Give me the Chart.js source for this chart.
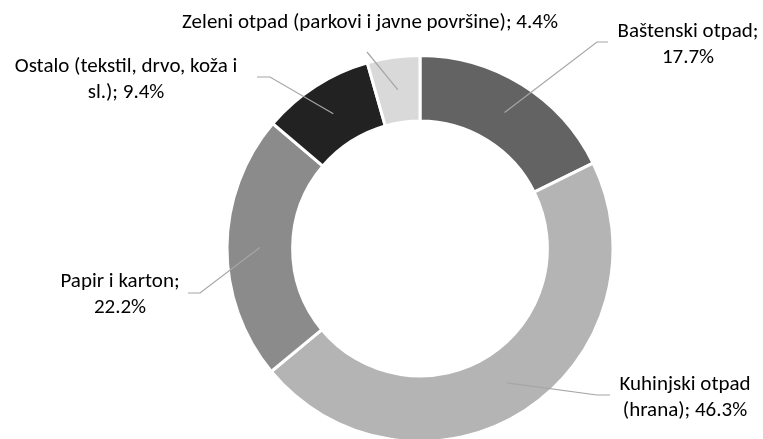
<!DOCTYPE html>
<html lang="sr">
<head>
  <meta charset="UTF-8" />
  <title>Sastav biorazgradivog otpada</title>
  <script src="https://cdn.jsdelivr.net/npm/chart.js"></script>
  <style>
    html,body{margin:0;padding:0;background:#fff;overflow:hidden;}
    #wrap{position:relative;width:763px;height:439px;}
  </style>
</head>
<body>
<div id="wrap"><canvas id="pie" width="763" height="439"></canvas></div>
<script>
  // Data
  const categories=['Baštenski otpad','Kuhinjski otpad (hrana)','Papir i karton','Ostalo (tekstil, drvo, koža i sl.)','Zeleni otpad (parkovi i javne površine)'];
  const shares=[17.7,46.3,22.2,9.4,4.4];
  const sliceColors=['#636363','#b4b4b4','#8b8b8b','#222222','#d9d9d9'];

  // label layout: wrapped text lines, text centre, leader elbow + end
  const labelLayout=[
    {lines:['Baštenski otpad;','17.7%'],x:688,y:32,elbow:[597,42],end:[608,42]},
    {lines:['Kuhinjski otpad','(hrana); 46.3%'],x:685,y:385,elbow:[597,395],end:[610,395]},
    {lines:['Papir i karton;','22.2%'],x:120,y:282,elbow:[200,293],end:[188,293]},
    {lines:['Ostalo (tekstil, drvo, koža i','sl.); 9.4%'],x:126,y:67,elbow:[270,77],end:[257,77]},
    {lines:['Zeleni otpad (parkovi i javne površine); 4.4%'],x:370,y:23,elbow:[367,52],end:[367,52]}
  ];
  const FAMILY='Carlito, Lato, sans-serif';

  const leaderLabels={
    id:'leaderLabels',
    afterDatasetsDraw(chart){
      const ctx=chart.ctx;
      const arcs=chart.getDatasetMeta(0).data;
      ctx.save();
      // size the font so the longest label spans ~375px like the reference (Calibri)
      ctx.font='20px '+FAMILY;
      const w=ctx.measureText(labelLayout[4].lines[0]).width;
      const size=Math.min(21,20*375/w);
      ctx.font=size.toFixed(1)+'px '+FAMILY;
      arcs.forEach((arc,i)=>{
        const L=labelLayout[i];
        const p=arc.tooltipPosition();
        ctx.strokeStyle='#a6a6a6';
        ctx.lineWidth=1.2;
        ctx.beginPath();
        ctx.moveTo(p.x,p.y);
        ctx.lineTo(L.elbow[0],L.elbow[1]);
        ctx.lineTo(L.end[0],L.end[1]);
        ctx.stroke();
        ctx.fillStyle='#000';
        ctx.textAlign='center';
        ctx.textBaseline='middle';
        L.lines.forEach((t,k)=>ctx.fillText(t,L.x,L.y+k*25.5));
      });
      ctx.restore();
    }
  };

  new Chart(document.getElementById('pie'),{
    type:'doughnut',
    data:{labels:categories,datasets:[{data:shares,backgroundColor:sliceColors,borderColor:'#fff',borderWidth:3}]},
    options:{
      responsive:false,animation:false,
      radius:193,cutout:'66%',
      layout:{padding:{left:228,right:151,top:58,bottom:0}},
      plugins:{legend:{display:false},tooltip:{enabled:false}}
    },
    plugins:[leaderLabels]
  });
</script>
</body>
</html>
